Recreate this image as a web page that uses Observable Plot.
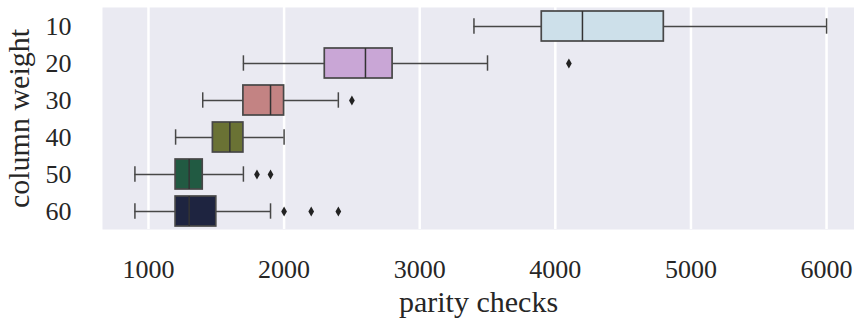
<!DOCTYPE html>
<html><head><meta charset="utf-8">
<script src="https://cdn.jsdelivr.net/npm/d3@7"></script>
<script src="https://cdn.jsdelivr.net/npm/@observablehq/plot@0.6"></script>
<style>body{margin:0;background:#fff}</style>
</head><body><div id="chart"></div>
<script>
const weights = ["10","20","30","40","50","60"];
const whiskerLow = [3400,1700,1400,1200,900,900];
const q1 = [3900,2300,1700,1475,1200,1200];
const median = [4200,2600,1900,1600,1300,1300];
const q3 = [4800,2800,2000,1700,1400,1500];
const whiskerHigh = [6000,3500,2400,2000,1700,1900];
const outlierWeight = ["20","30","50","50","60","60","60"];
const outlierValue = [4100,2500,1800,1900,2000,2200,2400];
const boxColors = ["#cde0ea","#c9a6d6","#c38383","#6a7234","#215a42","#1e2440"];
const xTicks = [1000,2000,3000,4000,5000,6000];
const xLabel = "parity checks";
const yLabel = "column weight";

const boxes = weights.map((w,i)=>({w, lo:whiskerLow[i], q1:q1[i], med:median[i], q3:q3[i], hi:whiskerHigh[i]}));
const outliers = outlierWeight.map((w,i)=>({w, v:outlierValue[i]}));

const lineColor = "#474747";
const chart = Plot.plot({
  width: 854,
  height: 324,
  marginTop: 7,
  marginBottom: 95,
  marginLeft: 102,
  marginRight: 0,
  style: {fontFamily: "'Liberation Serif', serif", color: "#262626", background: "#fff"},
  x: {domain: [661, 6206]},
  y: {type: "band", domain: weights, paddingInner: 0.2, paddingOuter: 0.1},
  color: {domain: weights, range: boxColors},
  marks: [
    Plot.frame({fill: "#eaeaf2", stroke: null}),
    Plot.gridX(xTicks, {stroke: "white", strokeOpacity: 1, strokeWidth: 2.5}),
    Plot.ruleY(boxes, {y: "w", x1: "lo", x2: "q1", stroke: lineColor, strokeWidth: 1.3}),
    Plot.ruleY(boxes, {y: "w", x1: "q3", x2: "hi", stroke: lineColor, strokeWidth: 1.3}),
    Plot.tickX(boxes, {x: "lo", y: "w", stroke: lineColor, strokeWidth: 1.5, insetTop: 7.3, insetBottom: 7.3}),
    Plot.tickX(boxes, {x: "hi", y: "w", stroke: lineColor, strokeWidth: 1.5, insetTop: 7.3, insetBottom: 7.3}),
    Plot.barX(boxes, {x1: "q1", x2: "q3", y: "w", fill: "w", stroke: lineColor, strokeWidth: 1.7}),
    Plot.tickX(boxes, {x: "med", y: "w", stroke: "#333", strokeWidth: 1.5}),
    Plot.dot(outliers, {x: "v", y: "w", symbol: "diamond", r: 3, fill: "#222", stroke: "none"}),
    Plot.axisX(xTicks, {tickSize: 0, tickPadding: 30, fontSize: 26, tickFormat: d3.format("d"), label: null}),
    Plot.axisY({tickSize: 0, tickPadding: 31, fontSize: 26, label: null}),
    Plot.text([xLabel], {frameAnchor: "bottom", textAnchor: "middle", lineAnchor: "middle", dy: 73, fontSize: 30, fill: "#262626"}),
    Plot.text([yLabel], {frameAnchor: "left", textAnchor: "middle", lineAnchor: "middle", dx: -83, rotate: -90, fontSize: 30, fill: "#262626"})
  ]
});
document.getElementById("chart").appendChild(chart);
</script>
</body></html>
